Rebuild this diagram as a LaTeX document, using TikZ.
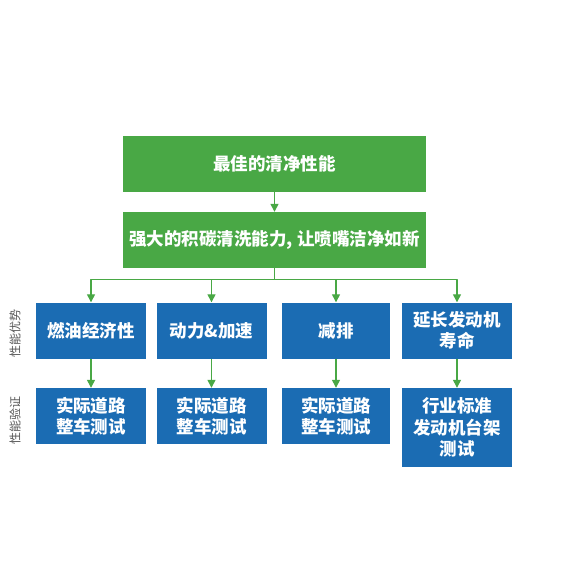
\documentclass[tikz,border=0pt]{standalone}
\usepackage{fontspec}
\newfontfamily\cjk{Noto Sans CJK SC}
\usetikzlibrary{arrows.meta}
\definecolor{leafgreen}{HTML}{49A845}
\definecolor{boxblue}{HTML}{1B6CB3}
\definecolor{sidegray}{HTML}{555555}

\begin{document}
\begin{tikzpicture}[x=1pt, y=-1pt, line join=round,
    greenbox/.style={fill=leafgreen, text=white, minimum width=303pt, minimum height=56pt, inner sep=0pt,
      font=\cjk\bfseries\fontsize{17.5}{21}\selectfont},
    bluebox/.style={fill=boxblue, text=white, minimum width=110pt, minimum height=56pt, inner sep=0pt,
      align=center, font=\cjk\bfseries\fontsize{17.5}{21.5}\selectfont},
    sidelabel/.style={rotate=90, text=sidegray, font=\cjk\fontsize{12}{14}\selectfont},
    link/.style={-{Triangle[width=8pt,length=8pt]}, draw=leafgreen, line width=1.3pt}]
    \useasboundingbox (0,0) rectangle (576,576);

    % Hai khối trên
    \node[greenbox] (best) at (274.5,164) {最佳的清净性能};
    \node[greenbox] (clean) at (274.5,240) {强大的积碳清洗能力, 让喷嘴洁净如新};

    % Hàng ưu thế
    \node[bluebox] (fuel) at (91,330.5) {燃油经济性};
    \node[bluebox] (power) at (211.5,330.5) {动力\&加速};
    \node[bluebox, minimum width=108pt] (emit) at (336,330.5) {减排};
    \node[bluebox] (life) at (457,330.5) {延长发动机\\寿命};

    % Hàng kiểm chứng
    \node[bluebox] (road1) at (91,416) {实际道路\\整车测试};
    \node[bluebox] (road2) at (211.5,416) {实际道路\\整车测试};
    \node[bluebox, minimum width=108pt] (road3) at (336,416) {实际道路\\整车测试};
    \node[bluebox, minimum height=79pt] (bench) at (457,427.5) {行业标准\\发动机台架\\测试};

    % Nhãn bên trái
    \node[sidelabel] (adv) at (15,333) {性能优势};
    \node[sidelabel] (ver) at (15,420) {性能验证};

    % Mũi tên
    \draw[link] (best) -- (clean);
    \foreach \n in {fuel,power,emit,life}
        \draw[link] (clean.south) -- ++(0,11) -| (\n.north);
    \draw[link] (fuel) -- (road1);
    \draw[link] (power) -- (road2);
    \draw[link] (emit) -- (road3);
    \draw[link] (life) -- (bench);
\end{tikzpicture}
\end{document}
